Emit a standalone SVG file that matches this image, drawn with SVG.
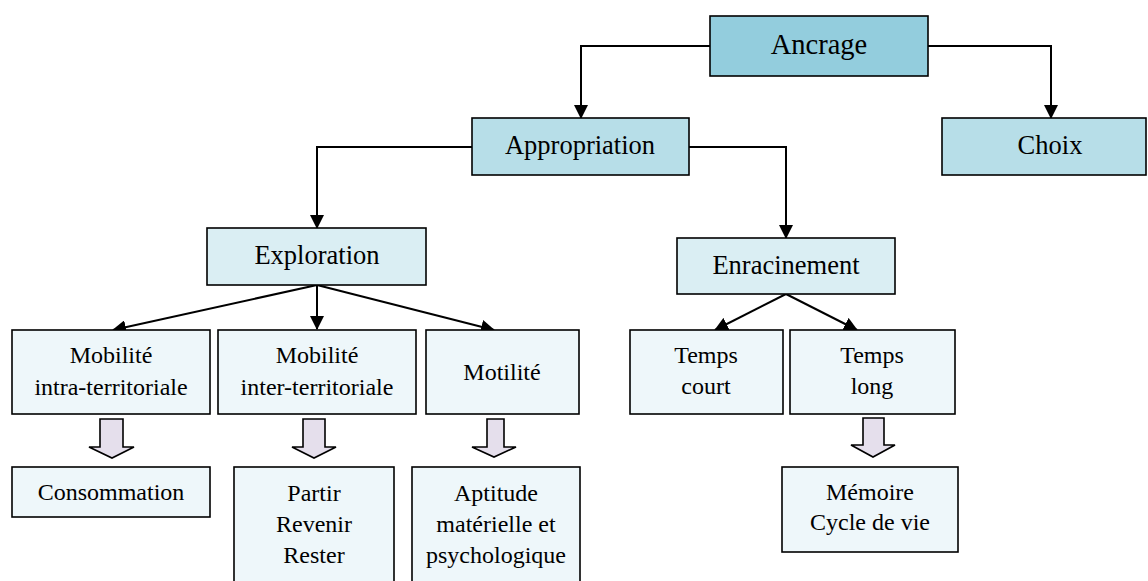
<svg xmlns="http://www.w3.org/2000/svg" width="1148" height="581" viewBox="0 0 1148 581">
<defs>
<marker id="ah" markerWidth="14" markerHeight="14" refX="13" refY="7" orient="auto" markerUnits="userSpaceOnUse">
<path d="M0,0 L14,7 L0,14 Z" fill="#000"/>
</marker>
<style>
.b{stroke:#000;stroke-width:1.6}
.l1{fill:#93CDDD}
.l2{fill:#B7DEE8}
.l3{fill:#DAEEF3}
.l4{fill:#EEF7FA}
text{font-family:'Liberation Serif','DejaVu Serif','Noto Serif',serif;text-anchor:middle;fill:#000}
.t1{font-size:28.5px}
.t2{font-size:26.5px}
.t3{font-size:24px}
.c{fill:none;stroke:#000;stroke-width:2;marker-end:url(#ah)}
.ba{fill:#E5DFEC;stroke:#000;stroke-width:1.6;stroke-linejoin:miter}
</style>
</defs>
<rect width="1148" height="581" fill="#fff"/>
<g id="connectors">
<path class="c" d="M710,46 H581 V118"/>
<path class="c" d="M928,46 H1051 V118"/>
<path class="c" d="M472,147 H317 V228"/>
<path class="c" d="M689,147 H786 V238"/>
<path class="c" d="M317,285 L113,330"/>
<path class="c" d="M317,285 V329"/>
<path class="c" d="M317,285 L494,330"/>
<path class="c" d="M786,294 L715,330"/>
<path class="c" d="M786,294 L857,330"/>
<path class="ba" d="M100,419 H123 V447 H134 L112,458 L89,447 H100 Z"/>
<path class="ba" d="M303,419 H325 V447 H336 L314,458 L292,447 H303 Z"/>
<path class="ba" d="M487,419 H504 V447 H516 L494,457 L472,447 H487 Z"/>
<path class="ba" d="M863,418 H884 V445 H895 L873,457 L851,445 H863 Z"/>
</g>
<g id="ancrage"><rect class="b l1" x="710" y="16" width="218" height="60"/><text class="t1" x="819" y="54">Ancrage</text></g>
<g id="appropriation"><rect class="b l2" x="472" y="118" width="217" height="57"/><text class="t2" x="580" y="154">Appropriation</text></g>
<g id="choix"><rect class="b l2" x="942" y="118" width="204" height="57"/><text class="t2" x="1050" y="154">Choix</text></g>
<g id="exploration"><rect class="b l3" x="207" y="228" width="219" height="57"/><text class="t2" x="317" y="264">Exploration</text></g>
<g id="enracinement"><rect class="b l3" x="677" y="238" width="218" height="56"/><text class="t2" x="786" y="274">Enracinement</text></g>
<g id="mob-intra"><rect class="b l4" x="12" y="330" width="198" height="84"/><text class="t3" x="111" y="363">Mobilité</text><text class="t3" x="111" y="395">intra-territoriale</text></g>
<g id="mob-inter"><rect class="b l4" x="218" y="330" width="198" height="84"/><text class="t3" x="317" y="363">Mobilité</text><text class="t3" x="317" y="395">inter-territoriale</text></g>
<g id="motilite"><rect class="b l4" x="426" y="330" width="153" height="84"/><text class="t3" x="502" y="380">Motilité</text></g>
<g id="temps-court"><rect class="b l4" x="630" y="330" width="153" height="84"/><text class="t3" x="706" y="363">Temps</text><text class="t3" x="706" y="394">court</text></g>
<g id="temps-long"><rect class="b l4" x="790" y="330" width="165" height="84"/><text class="t3" x="872" y="363">Temps</text><text class="t3" x="872" y="394">long</text></g>
<g id="consommation"><rect class="b l4" x="12" y="467" width="198" height="50"/><text class="t3" x="111" y="500">Consommation</text></g>
<g id="partir"><rect class="b l4" x="234" y="467" width="160" height="130"/><text class="t3" x="314" y="501">Partir</text><text class="t3" x="314" y="532">Revenir</text><text class="t3" x="314" y="563">Rester</text></g>
<g id="aptitude"><rect class="b l4" x="412" y="467" width="168" height="130"/><text class="t3" x="496" y="501">Aptitude</text><text class="t3" x="496" y="532">matérielle et</text><text class="t3" x="496" y="563">psychologique</text></g>
<g id="memoire"><rect class="b l4" x="782" y="467" width="176" height="85"/><text class="t3" x="870" y="500">Mémoire</text><text class="t3" x="870" y="530">Cycle de vie</text></g>
</svg>
